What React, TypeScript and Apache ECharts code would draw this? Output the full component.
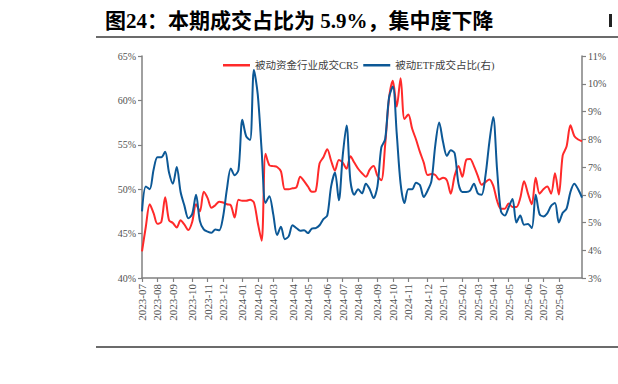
import React, { useEffect, useRef } from "react";
import * as echarts from "echarts";

// Weekly observations starting on this Friday
const START_DATE = "2023-07-07";

// 被动资金行业成交CR5 (%), left axis
const cr5: number[] = [
  43.0, 45.8, 48.3, 47.3, 46.1, 46.3, 49.1, 46.5, 46.2, 45.7,
  46.5, 46.0, 45.4, 46.3, 48.3, 47.5, 49.7, 49.0, 47.9, 48.2,
  48.6, 48.5, 48.3, 48.2, 46.8, 48.8, 48.7, 48.7, 48.8, 48.5,
  46.2, 44.2, 54.0, 52.7, 52.6, 52.5, 52.0, 50.0, 50.0, 50.1,
  50.2, 51.4, 50.9, 50.3, 49.7, 49.8, 52.9, 53.6, 54.5, 53.2,
  52.1, 53.3, 53.0, 52.3, 53.7, 53.0, 52.3, 51.8, 51.4, 52.2,
  52.6, 51.5, 51.0, 55.0, 60.2, 62.2, 59.3, 62.5, 57.9, 58.4,
  56.8, 55.6, 54.2, 53.0, 51.6, 51.7, 51.6, 51.1, 51.3, 51.0,
  49.5, 51.5, 52.6, 51.4, 53.3, 53.4, 52.6, 51.5, 50.5, 50.8,
  51.1, 50.4, 48.7, 47.8, 47.8, 48.4, 48.0, 48.0, 49.0, 50.9,
  49.5, 48.3, 51.3, 49.5, 50.0, 50.3, 49.5, 51.8, 49.4, 53.8,
  54.8, 57.2, 56.0, 55.6, 55.4,
];

// 被动ETF成交占比 (%), right axis
const etfShare: number[] = [
  5.4, 6.3, 6.2, 6.9, 7.35, 7.35, 7.55, 6.8, 6.4, 7.0,
  6.1, 5.6, 5.15, 5.3, 6.0, 5.05, 4.75, 4.67, 4.63, 4.75,
  4.72, 5.2, 6.2, 6.95, 6.7, 6.9, 8.7, 8.1, 7.97, 10.5,
  9.6, 7.6, 5.7, 5.95, 5.3, 4.55, 4.85, 4.4, 4.5, 4.9,
  4.8, 4.7, 4.72, 4.62, 4.78, 4.8, 4.9, 5.12, 5.25, 6.3,
  6.8, 5.8, 7.4, 8.5, 6.5, 6.0, 6.2, 6.05, 6.4, 6.2,
  5.88, 6.3, 7.7, 8.0, 9.5, 9.9, 8.2, 6.4, 5.7, 6.2,
  6.2, 6.43, 6.35, 5.92, 6.15, 6.5, 7.8, 8.6, 7.9, 7.4,
  7.6, 7.5, 6.4, 6.1, 6.1, 6.15, 6.4, 6.05, 6.0, 6.7,
  7.9, 8.8, 6.9, 5.4, 5.25, 5.55, 5.85, 5.0, 5.25, 4.92,
  4.95, 4.8, 6.0, 5.3, 5.22, 5.33, 5.6, 5.7, 5.0, 5.35,
  5.5, 6.1, 6.4, 6.2, 5.9,
];

const SERIES_NAMES = ["被动资金行业成交CR5", "被动ETF成交占比(右)"];
const TITLE = "图24：本期成交占比为 5.9%，集中度下降";
const LEFT_TICKS = { min: 40, max: 65, interval: 5 };
const RIGHT_TICKS = { min: 3, max: 11, interval: 1 };

function weeklyDates(start: string, n: number): string[] {
  const out: string[] = [];
  const base = new Date(start + "T00:00:00Z").getTime();
  for (let i = 0; i < n; i++) {
    const d = new Date(base + i * 7 * 86400000);
    const y = d.getUTCFullYear();
    const m = String(d.getUTCMonth() + 1).padStart(2, "0");
    const day = String(d.getUTCDate()).padStart(2, "0");
    out.push(`${y}-${m}-${day}`);
  }
  return out;
}

const dates = weeklyDates(START_DATE, cr5.length);
const monthStart = new Set<number>();
dates.forEach((d, i) => {
  // the final, incomplete month is not labelled
  if (i > dates.length - 4) return;
  if (i === 0 || d.slice(0, 7) !== dates[i - 1].slice(0, 7)) monthStart.add(i);
});

const SERIF = '"Liberation Serif", "Times New Roman", "Noto Sans CJK SC", serif';
const AXIS_COLOR = "#808080";
const LABEL_COLOR = "#505050";
const RED = "#FF2A2A";
const BLUE = "#0C5896";

export default function App() {
  const ref = useRef<HTMLDivElement>(null);
  useEffect(() => {
    if (!ref.current) return;
    const chart = echarts.init(ref.current, undefined, { renderer: "svg" });
    const yAxisCommon = {
      type: "value",
      axisLine: { show: true, lineStyle: { color: AXIS_COLOR, width: 1.5 } },
      axisTick: { show: true, length: 4, lineStyle: { color: AXIS_COLOR, width: 1.2 } },
      splitLine: { show: false },
      axisLabel: {
        formatter: "{value}%",
        fontSize: 10,
        fontFamily: SERIF,
        color: LABEL_COLOR,
        margin: 6,
      },
    };
    chart.setOption({
      animation: false,
      backgroundColor: "#ffffff",
      grid: { left: 142, right: 36, top: 56, bottom: 106 },
      legend: {
        left: 223,
        top: 60,
        padding: 0,
        icon: "rect",
        itemWidth: 27,
        itemHeight: 2.5,
        itemGap: 5,
        textStyle: { fontSize: 10.5, color: "#404040", fontFamily: SERIF },
        data: SERIES_NAMES,
      },
      xAxis: {
        type: "category",
        data: dates,
        boundaryGap: false,
        axisLine: { lineStyle: { color: AXIS_COLOR, width: 1.5 } },
        axisTick: {
          interval: (i: number) => monthStart.has(i),
          length: 4,
          lineStyle: { color: AXIS_COLOR, width: 1.2 },
        },
        axisLabel: {
          interval: (i: number) => monthStart.has(i),
          rotate: 90,
          formatter: (v: string) => v.slice(0, 7),
          fontSize: 11,
          fontFamily: SERIF,
          color: LABEL_COLOR,
          margin: 6,
        },
      },
      yAxis: [
        { ...yAxisCommon, position: "left", ...LEFT_TICKS },
        { ...yAxisCommon, position: "right", ...RIGHT_TICKS },
      ],
      series: [
        {
          name: SERIES_NAMES[0],
          type: "line",
          yAxisIndex: 0,
          data: cr5,
          symbol: "none",
          smooth: 0.3,
          lineStyle: { color: RED, width: 2 },
          itemStyle: { color: RED },
        },
        {
          name: SERIES_NAMES[1],
          type: "line",
          yAxisIndex: 1,
          data: etfShare,
          symbol: "none",
          smooth: 0.3,
          lineStyle: { color: BLUE, width: 2 },
          itemStyle: { color: BLUE },
        },
      ],
      graphic: [
        {
          type: "text",
          x: 105,
          y: 21,
          style: {
            text: TITLE,
            font: `bold 21px ${SERIF}`,
            fill: "#000",
            textAlign: "left",
            textVerticalAlign: "middle",
          },
        },
        {
          type: "rect",
          shape: { x: 609, y: 14, width: 3, height: 13 },
          style: { fill: "#222" },
        },
        {
          type: "line",
          shape: { x1: 96, y1: 37, x2: 618, y2: 37 },
          style: { stroke: "#3a3a3a", lineWidth: 1.5 },
        },
        {
          type: "line",
          shape: { x1: 96, y1: 347, x2: 618, y2: 347 },
          style: { stroke: "#3a3a3a", lineWidth: 1.5 },
        },
      ],
    });
    return () => chart.dispose();
  }, []);
  return (
    <div
      ref={ref}
      style={{ position: "fixed", left: 0, top: 0, width: 618, height: 384, background: "#fff" }}
    />
  );
}
